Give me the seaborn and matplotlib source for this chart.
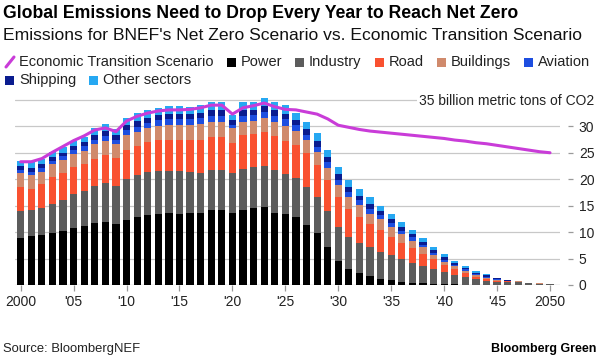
import numpy as np
import matplotlib
matplotlib.use("Agg")
import matplotlib.pyplot as plt
import seaborn as sns
from matplotlib.patches import Rectangle
from matplotlib.lines import Line2D

years = list(range(2000, 2051))
power = [8.9, 9.2, 9.4, 9.9, 10.3, 10.8, 11.1, 11.7, 12.0, 11.6,
         12.3, 12.8, 13.3, 13.4, 13.7, 13.5, 13.6, 13.6, 14.1, 14.1,
         13.6, 14.2, 14.6, 14.7, 13.7, 13.4, 12.8, 11.3, 9.8, 7.2,
         4.6, 3.0, 2.2, 1.7, 1.1, 0.9, 0.6, 0.4, 0.3, 0.2,
         0.1, 0.1, 0.05, 0.0, 0.0, 0.0, 0.0, 0.0, 0.0, 0.0, 0.0]
industry = [5.1, 5.0, 5.2, 5.5, 5.8, 6.4, 6.7, 7.0, 7.2, 7.2,
            7.8, 8.0, 8.1, 8.1, 7.9, 8.0, 7.7, 7.6, 7.6, 7.6,
            7.6, 7.8, 7.7, 7.8, 8.0, 7.6, 7.4, 7.3, 6.8, 6.7,
            6.4, 6.1, 5.8, 5.4, 5.2, 4.8, 4.3, 3.8, 3.3, 2.8,
            2.4, 1.8, 1.45, 1.1, 0.8, 0.5, 0.55, 0.55, 0.35, 0.25, 0.17]
road = [4.5, 4.0, 4.4, 5.0, 5.1, 5.1, 5.0, 5.2, 5.3, 5.3,
        5.5, 5.5, 5.6, 5.9, 5.9, 5.9, 6.2, 6.2, 6.3, 6.3,
        5.6, 6.3, 6.2, 6.4, 6.5, 6.3, 6.3, 6.3, 6.1, 5.9,
        5.6, 5.2, 4.9, 4.4, 4.1, 3.4, 3.1, 2.7, 2.2, 1.9,
        1.3, 1.1, 0.7, 0.5, 0.3, 0.25, 0.15, 0.1, 0.05, 0.03, 0.02]
buildings = [2.6, 2.5, 2.4, 2.4, 2.4, 2.4, 2.6, 2.7, 2.8, 2.6,
             2.7, 2.6, 2.6, 2.7, 2.7, 2.8, 2.7, 3.0, 2.8, 2.8,
             2.9, 2.6, 2.5, 2.6, 2.6, 2.8, 2.7, 2.5, 2.4, 2.4,
             2.3, 2.4, 2.2, 2.0, 2.0, 1.9, 1.6, 1.5, 1.3, 0.8,
             0.6, 0.5, 0.5, 0.3, 0.3, 0.2, 0.1, 0.05, 0.03, 0.01, 0.01]
aviation = [0.7, 0.7, 0.7, 0.7, 0.7, 0.8, 0.8, 0.9, 0.9, 0.8,
            1.0, 1.0, 1.0, 1.0, 1.1, 1.1, 1.1, 1.1, 1.2, 1.2,
            0.5, 1.0, 1.1, 1.2, 1.1, 1.2, 1.0, 1.0, 1.0, 1.0,
            1.0, 0.9, 0.9, 0.9, 0.8, 0.7, 0.7, 0.6, 0.5, 0.4,
            0.4, 0.3, 0.3, 0.2, 0.2, 0.15, 0.05, 0.0, 0.0, 0.0, 0.0]
shipping = [0.7, 0.8, 0.7, 0.7, 0.7, 0.7, 0.8, 0.9, 1.0, 0.8,
            1.0, 1.1, 1.0, 1.0, 1.1, 1.1, 1.0, 1.0, 1.1, 1.1,
            1.0, 1.1, 1.0, 1.1, 1.1, 1.1, 1.0, 1.0, 1.1, 1.0,
            1.0, 1.0, 0.9, 1.0, 0.7, 0.7, 0.7, 0.6, 0.5, 0.5,
            0.5, 0.4, 0.3, 0.2, 0.2, 0.15, 0.05, 0.0, 0.0, 0.0, 0.0]
other = [1.0, 1.0, 1.0, 1.0, 1.0, 1.0, 1.0, 1.2, 1.3, 1.1,
         1.3, 1.5, 1.5, 1.3, 1.5, 1.5, 1.4, 1.5, 1.5, 1.5,
         0.9, 1.5, 1.5, 1.5, 1.5, 1.6, 1.3, 1.5, 1.5, 1.4,
         1.5, 1.2, 1.2, 1.2, 1.0, 1.0, 1.0, 0.8, 0.7, 0.6,
         0.6, 0.4, 0.3, 0.3, 0.2, 0.15, 0.05, 0.05, 0.02, 0.01, 0.0]
ets_line = [23.3, 23.3, 23.9, 25.1, 26.2, 27.3, 28.2, 29.3, 29.7, 29.0,
            31.0, 31.9, 32.5, 32.9, 33.1, 33.1, 33.2, 33.5, 34.0, 34.0,
            32.3, 33.5, 33.9, 34.4, 33.7, 33.2, 33.1, 32.7, 32.3, 31.4,
            30.2, 29.8, 29.4, 29.1, 28.9, 28.7, 28.5, 28.3, 28.1, 27.9,
            27.7, 27.4, 27.2, 26.9, 26.7, 26.4, 26.1, 25.8, 25.5, 25.2, 25.0]

sector_names = ["Power", "Industry", "Road", "Buildings", "Aviation", "Shipping", "Other sectors"]
sector_values = [power, industry, road, buildings, aviation, shipping, other]
sector_colors = ["#000000", "#5c5c5c", "#f95130", "#d08a6c", "#1d4ee0", "#0a1c8f", "#26a8f2"]
line_name = "Economic Transition Scenario"
line_color = "#c93cd8"
xtick_years = list(range(2000, 2051, 5))
xtick_labels = ["2000", "'05", "'10", "'15", "'20", "'25", "'30", "'35", "'40", "'45", "2050"]
ytick_vals = [0, 5, 10, 15, 20, 25, 30]

sns.set_theme(style="white")
plt.rcParams["font.family"] = ["Liberation Sans", "DejaVu Sans"]

W, H = 600, 358
fig = plt.figure(figsize=(6, 3.58), dpi=100)
px = 10.6  # px per year
ypx = 5.29  # px per unit
ymax = 36.5
ax = fig.add_axes([15 / W, 1 - 285 / H, 545 / W, ymax * ypx / H])
ax.set_xlim(2000 - 5.7 / px, 2000 + 540 / px)
ax.set_ylim(0, ymax)
for s in ax.spines.values():
    s.set_visible(False)

for g in range(5, 40, 5):
    ax.axhline(g, color="#c8c8c8", linewidth=0.9, zorder=0)
ax.axhline(0, color="#9a9a9a", linewidth=0.9, zorder=0)

bottom = np.zeros(len(years))
for name, vals, col in zip(sector_names, sector_values, sector_colors):
    ax.bar(years, vals, width=0.68, bottom=bottom, color=col, linewidth=0, zorder=2)
    bottom += np.array(vals)

sns.lineplot(x=years, y=ets_line, ax=ax, color=line_color, linewidth=2.2, zorder=3, legend=False)

ax.set_xticks(xtick_years)
ax.set_xticklabels(xtick_labels)
ax.tick_params(axis="x", bottom=True, length=4, width=0.9, color="#9a9a9a",
               labelsize=10, labelcolor="#222222", pad=3)
ax.yaxis.set_ticks_position("right")
ax.spines["right"].set_position(("outward", 6))
ax.set_yticks(ytick_vals)
ax.tick_params(axis="y", right=True, left=False, length=3.5, width=0.9, color="#9a9a9a",
               labelsize=10, labelcolor="#222222", pad=4)
for lab in ax.get_yticklabels():
    lab.set_horizontalalignment("left")
ax.set_xlabel("")
ax.set_ylabel("")

def fx(p):
    return p / W

def fy(p):
    return 1 - p / H

fig.text(fx(594), fy(101), "35 billion metric tons of CO2", ha="right", va="center",
         fontsize=10, color="#222222",
         bbox=dict(facecolor="white", edgecolor="none", pad=1.5))

fig.text(fx(3), fy(14), "Global Emissions Need to Drop Every Year to Reach Net Zero",
         ha="left", va="center", fontsize=12.7, fontweight="bold", color="#000000")
fig.text(fx(3), fy(35), "Emissions for BNEF's Net Zero Scenario vs. Economic Transition Scenario",
         ha="left", va="center", fontsize=12.6, color="#111111")

fig.text(fx(3), fy(349), "Source: BloombergNEF", ha="left", va="center", fontsize=9.4, color="#222222")
fig.text(fx(596), fy(349), "Bloomberg Green", ha="right", va="center", fontsize=9,
         fontweight="bold", color="#000000")

# legend, flowing layout
renderer = fig.canvas.get_renderer()
leg_fs = 10.5
rows_y = [62, 80]
x = 5
row = 0
items = [(line_name, line_color, "line")] + [(n, c, "box") for n, c in zip(sector_names, sector_colors)]
for name, col, kind in items:
    t = fig.text(0, 0, name, fontsize=leg_fs, color="#222222", ha="left", va="center")
    tw = t.get_window_extent(renderer).width
    need = 14 + tw
    if x + need > 598:
        row += 1
        x = 5
    yy = rows_y[row]
    if kind == "line":
        fig.add_artist(Line2D([fx(x + 1), fx(x + 9)], [fy(yy + 5), fy(yy - 5)],
                              color=col, linewidth=2.2, transform=fig.transFigure))
    else:
        fig.add_artist(Rectangle((fx(x), fy(yy + 4.5)), 9 / W, 9 / H, facecolor=col,
                                 edgecolor="none", transform=fig.transFigure))
    t.set_position((fx(x + 14), fy(yy)))
    x += need + 13

fig.savefig("out.png", dpi=100)
